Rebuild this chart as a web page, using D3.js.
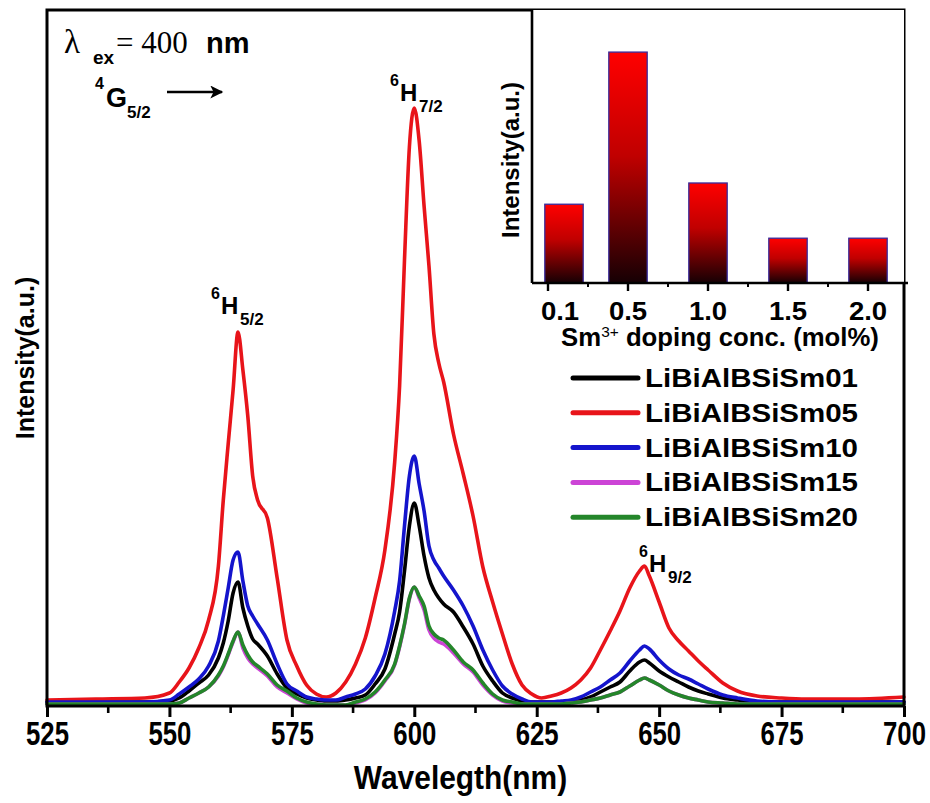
<!DOCTYPE html>
<html>
<head>
<meta charset="utf-8">
<script src="https://cdn.jsdelivr.net/npm/d3@7"></script>
<style>
  body { margin: 0; background: #fff; }
  svg { display: block; }
  text { font-family: "Liberation Sans", Arial, Helvetica, sans-serif; font-weight: bold; fill: #000; }
  .serif { font-family: "Liberation Serif", "Times New Roman", serif; font-weight: normal; }
</style>
</head>
<body>
<svg id="chart" width="930" height="803"></svg>
<script>
// Emission spectra (excitation 400 nm), intensity in arbitrary units
const wavelength = [525,535,545,550,552,554,556,558,560,561,562,563,564,565,566,567,568,570,572,574,576,578,580,582,584,586,588,590,592,594,596,597,598,599,600,601,602,603,604,605,606,608,610,612,614,616,618,620,622,624,626,628,630,632,634,636,638,640,642,644,646,647,648,650,652,654,656,658,660,663,666,670,675,680,690,700];

const sm01 = [4,4,4,5,8,15,23,31,48, 63,85,113,124,98,80,67,62, 50,32,18,12,8,6,5,5,6,8,11,22,37,72, 94,135,180,203,180,150,128,116,108,102, 94,79,62,40,25,13,8,5,4,4,4,4,5,6,9,14,19,24,35,44, 46,43, 35,29,24,19,15,12, 8,6,4,4,4,4,4];
const sm05 = [6,7,8,13,24,38,58,86,140, 206,262,316,374,336,290,230,206, 188,128,66,40,21,12,9,13,24,42,68,108,156,244, 320,446,559,598,565,500,440,372,343,324, 272,232,190,139,104,72,42,21,12,8,10,13,18,26,38,56,75,95,118,135, 140,130, 104,78,65,55,45,36, 23,15,10,8,7,7,9];
const sm10 = [4,4,4,6,12,19,27,40,65, 90,118,146,154,125,100,90,82, 66,42,22,15,9,7,6,6,9,12,17,30,52,95, 125,180,230,250,222,195,160,146,138,130, 116,100,80,56,36,20,12,7,4,4,4,5,6,9,14,19,26,33,45,56, 60,57, 46,37,31,27,22,17, 11,8,5,4,4,4,4];
const sm15 = [2,2,2,2,3,8,13,19,30, 39,51,64,74,58,48,42,38, 30,19,13,7,3,2,1,1,1,3,6,13,25,41, 59,81,107,119,108,96,76,68,64,62, 53,42,34,21,11,5,3,2,2,2,2,2,3,4,6,8,11,14,20,26, 28,26, 21,15,11,8,6,4, 3,2,2,2,2,2,2];
const sm20 = [2,2,2,2,3,8,13,19,31, 40,52,65,74,61,51,44,40, 32,21,15,8,4,2,1,1,1,4,7,14,26,42, 60,82,108,119,110,100,80,72,68,66, 56,44,36,23,12,6,4,2,2,2,2,2,3,4,6,8,11,14,20,26, 28,26, 21,15,11,8,6,4, 3,2,2,2,2,2,2];

const seriesNames = ["LiBiAlBSiSm01","LiBiAlBSiSm05","LiBiAlBSiSm10","LiBiAlBSiSm15","LiBiAlBSiSm20"];
const seriesValues = [sm01, sm05, sm10, sm15, sm20];
const seriesColors = ["#000000","#e8141a","#1414cc","#cc44d6","#24862a"];

const xTicks = [525,550,575,600,625,650,675,700];

// Inset: 6H7/2 peak intensity vs. Sm3+ concentration
const concentration = [0.1, 0.5, 1.0, 1.5, 2.0];
const concLabels = ["0.1","0.5","1.0","1.5","2.0"];
const peakIntensity = [204, 598, 259, 116, 116];

const svg = d3.select("#chart");
const defs = svg.append("defs");

// ---------- main panel ----------
const L = 47, R = 904, T = 10, B = 706;
const x = d3.scaleLinear().domain([525, 700]).range([L, R]);
const y = d3.scaleLinear().domain([0, 696]).range([B, T]);

const line = d3.line()
  .x((d, i) => x(wavelength[i]))
  .y(d => y(d))
  .curve(d3.curveMonotoneX);

const curves = svg.append("g").attr("fill", "none").attr("stroke-linejoin", "round").attr("stroke-linecap", "round");
seriesValues.forEach((vals, k) => {
  curves.append("path")
    .attr("d", line(vals))
    .attr("stroke", seriesColors[k])
    .attr("stroke-width", 3.6);
});

// x axis with major and minor ticks; labels drawn condensed
const xAxis = svg.append("g").attr("transform", `translate(0,${B})`)
  .call(d3.axisBottom(x).tickValues(xTicks).tickSize(11).tickPadding(5).tickFormat(d3.format("d")));
xAxis.select(".domain").remove();
xAxis.selectAll(".tick line").attr("stroke", "#000").attr("stroke-width", 3);
xAxis.selectAll(".tick text")
  .style("font-size", "33px").style("font-weight", "bold")
  .style("font-family", '"Liberation Sans", Arial, sans-serif')
  .attr("fill", "#000")
  .attr("transform", "scale(0.78,1)");

const minorX = d3.range(537.5, 700, 25);
svg.append("g").selectAll("line").data(minorX).join("line")
  .attr("x1", d => x(d)).attr("x2", d => x(d))
  .attr("y1", B).attr("y2", B + 7)
  .attr("stroke", "#000").attr("stroke-width", 2.6);

// frame
svg.append("rect")
  .attr("x", L).attr("y", T).attr("width", R - L).attr("height", B - T)
  .attr("fill", "none").attr("stroke", "#000").attr("stroke-width", 3);

// axis titles
svg.append("text")
  .attr("transform", `translate(${(L + R) / 2 - 15},789) scale(0.88,1)`)
  .attr("text-anchor", "middle")
  .style("font-size", "34px").text("Wavelegth(nm)");

svg.append("text")
  .attr("transform", `translate(34,${(T + B) / 2}) rotate(-90)`)
  .attr("text-anchor", "middle")
  .style("font-size", "25px").text("Intensity(a.u.)");

// excitation note
svg.append("text").attr("class", "serif").attr("x", 64).attr("y", 53).style("font-size", "33px").text("λ");
svg.append("text").attr("x", 93).attr("y", 64).style("font-size", "19px").text("ex");
svg.append("text").attr("class", "serif").attr("x", 116).attr("y", 53).style("font-size", "31px").text("= 400");
svg.append("text").attr("x", 206).attr("y", 53).style("font-size", "29px").text("nm");

svg.append("text").attr("x", 95).attr("y", 89).style("font-size", "16px").text("4");
svg.append("text").attr("x", 106).attr("y", 107).style("font-size", "27px").text("G");
svg.append("text").attr("x", 127).attr("y", 118).style("font-size", "17px").text("5/2");

defs.append("marker")
  .attr("id", "arrowHead").attr("viewBox", "0 0 10 10")
  .attr("refX", 9).attr("refY", 5)
  .attr("markerWidth", 5.5).attr("markerHeight", 5)
  .attr("markerUnits", "strokeWidth").attr("orient", "auto")
  .append("path").attr("d", "M0,0 L10,5 L0,10 L2.5,5 Z").attr("fill", "#000");
svg.append("line")
  .attr("x1", 167).attr("x2", 222).attr("y1", 92).attr("y2", 92)
  .attr("stroke", "#000").attr("stroke-width", 2.6)
  .attr("marker-end", "url(#arrowHead)");

// transition labels
function term(x0, yBase, sup, main, sub) {
  svg.append("text").attr("x", x0).attr("y", yBase - 15).style("font-size", "16px").text(sup);
  svg.append("text").attr("x", x0 + 10).attr("y", yBase).style("font-size", "24px").text(main);
  svg.append("text").attr("x", x0 + 29).attr("y", yBase + 11).style("font-size", "17px").text(sub);
}
term(211, 314, "6", "H", "5/2");
term(390, 101, "6", "H", "7/2");
term(639, 572, "6", "H", "9/2");

// legend
const legend = svg.append("g");
seriesNames.forEach((name, k) => {
  const yy = 378 + k * 34.8;
  legend.append("line")
    .attr("x1", 573).attr("x2", 638).attr("y1", yy).attr("y2", yy)
    .attr("stroke", seriesColors[k]).attr("stroke-width", 5).attr("stroke-linecap", "round");
  legend.append("text")
    .attr("transform", `translate(645,${yy + 9}) scale(1.18,1)`)
    .style("font-size", "25px").text(name);
});

// ---------- inset ----------
const iL = 532, iR = 904, iT = 10, iB = 283;
const ix = d3.scaleLinear().domain([-0.1, 2.225]).range([iL, iR]);
const iy = d3.scaleLinear().domain([0, 707]).range([iB, iT]);

svg.append("rect").attr("x", iL).attr("y", iT).attr("width", iR - iL).attr("height", iB - iT).attr("fill", "#fff");

const grad = defs.append("linearGradient")
  .attr("id", "barFill").attr("x1", 0).attr("y1", 0).attr("x2", 0).attr("y2", 1);
grad.append("stop").attr("offset", "0%").attr("stop-color", "#ff0000");
grad.append("stop").attr("offset", "45%").attr("stop-color", "#c00000");
grad.append("stop").attr("offset", "100%").attr("stop-color", "#160004");

const barW = ix(0.24) - ix(0);
svg.append("g").selectAll("rect").data(concentration).join("rect")
  .attr("x", (d) => ix(d) - barW / 2)
  .attr("y", (d, i) => iy(peakIntensity[i]))
  .attr("width", barW)
  .attr("height", (d, i) => iB - iy(peakIntensity[i]))
  .attr("fill", "url(#barFill)")
  .attr("stroke", "#3a2a9a").attr("stroke-width", 1.3);

// inset axes
svg.append("line").attr("x1", iL).attr("x2", iL).attr("y1", iT).attr("y2", iB)
  .attr("stroke", "#000").attr("stroke-width", 2.6);
svg.append("line").attr("x1", iL).attr("x2", iR + 4).attr("y1", iB).attr("y2", iB)
  .attr("stroke", "#000").attr("stroke-width", 2.6);

const iMajor = [0, 0.5, 1.0, 1.5, 2.0];
const iMinor = [0.25, 0.75, 1.25, 1.75];
svg.append("g").selectAll("line").data(iMajor).join("line")
  .attr("x1", d => ix(d)).attr("x2", d => ix(d)).attr("y1", iB).attr("y2", iB + 8)
  .attr("stroke", "#000").attr("stroke-width", 2.4);
svg.append("g").selectAll("line").data(iMinor).join("line")
  .attr("x1", d => ix(d)).attr("x2", d => ix(d)).attr("y1", iB).attr("y2", iB + 4)
  .attr("stroke", "#000").attr("stroke-width", 2);

svg.append("g").selectAll("text").data(concentration).join("text")
  .attr("transform", (d, i) => `translate(${ix(d) - (i === 0 ? 4 : 0)},320) scale(1.1,1)`)
  .attr("text-anchor", "middle")
  .style("font-size", "25px").text((d, i) => concLabels[i]);

const xl = svg.append("text")
  .attr("transform", "translate(720,346) scale(1.03,1)")
  .attr("text-anchor", "middle").style("font-size", "25px");
xl.append("tspan").text("Sm");
xl.append("tspan").attr("dy", -9).style("font-size", "15px").style("font-weight", "normal").text("3+");
xl.append("tspan").attr("dy", 9).text(" doping conc. (mol%)");

svg.append("text")
  .attr("transform", `translate(519,160) rotate(-90)`)
  .attr("text-anchor", "middle")
  .style("font-size", "24px").text("Intensity(a.u.)");
</script>
</body>
</html>
